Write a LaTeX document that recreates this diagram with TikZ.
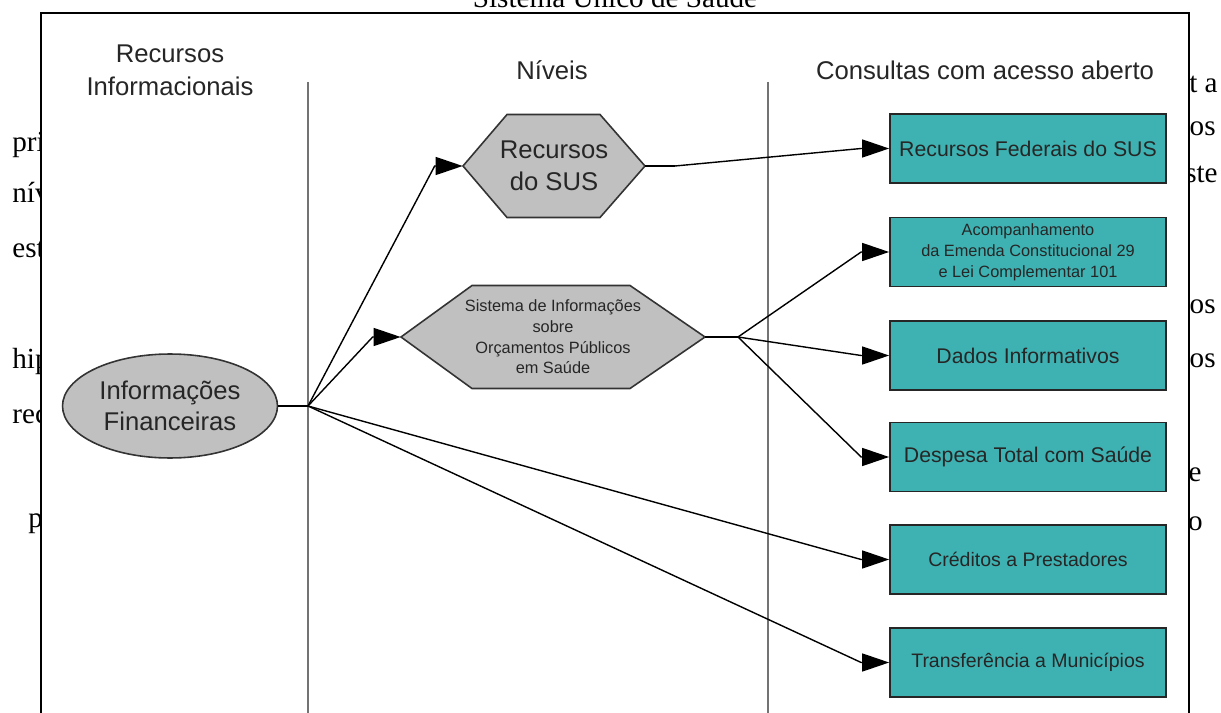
\documentclass[tikz,border=0pt]{standalone}
\usepackage{fontspec}
\setmainfont{Liberation Serif}
\newfontfamily\diafont{Liberation Sans}
\usepackage{xcolor}
\usetikzlibrary{shapes.geometric, arrows.meta}
\definecolor{hexgray}{RGB}{192,192,192}
\definecolor{boxteal}{RGB}{62,178,178}

\begin{document}
\begin{tikzpicture}[x=0.02cm, y=-0.02cm,
  pagetext/.style={font=\fontsize{16.6}{20}\selectfont, inner sep=0pt},
  header/.style={font=\diafont\fontsize{14.6}{18.8}\selectfont, align=center, text=black!85, inner sep=0pt},
  hexshape/.style={draw=black!80, line width=0.9pt, fill=hexgray},
  hexlabel/.style={align=center, text=black!85, inner sep=0pt, minimum height=2.06cm},
  infobox/.style={draw=black!85, line width=1pt, fill=boxteal, minimum width=5.52cm, minimum height=1.38cm, inner sep=0pt, align=center, text=black!85},
  link/.style={line width=0.8pt},
  arr/.style={line width=0.8pt, -{Triangle[length=0.54cm, width=0.36cm]}},
  divider/.style={black!55, line width=0.6pt}]
\clip (0,0) rectangle (1221,713);
\node[pagetext, anchor=base] (title) at (615,7.5) {Sistema Único de Saúde};
\node[pagetext, anchor=base west] (l1) at (12,152) {pri};
\node[pagetext, anchor=base west] (l2) at (12,202) {nív};
\node[pagetext, anchor=base west] (l3) at (12,257) {est};
\node[pagetext, anchor=base west] (l4) at (12,368) {hip};
\node[pagetext, anchor=base west] (l5) at (12,423) {rec};
\node[pagetext, anchor=base west] (l6) at (28,527) {p};
\node[pagetext, anchor=base east] (r1) at (1218,92) {t a};
\node[pagetext, anchor=base east] (r2) at (1216,135) {os};
\node[pagetext, anchor=base east] (r3) at (1218,182) {ste};
\node[pagetext, anchor=base east] (r4) at (1216,313) {os};
\node[pagetext, anchor=base east] (r5) at (1216,367) {os};
\node[pagetext, anchor=base east] (r6) at (1202,481) {e};
\node[pagetext, anchor=base east] (r7) at (1203,530) {o};

\fill[white] (41,13) rectangle (1189,713);
\draw[line width=0.8pt] (41,713) -- (41,13) -- (1189,13) -- (1189,713);
\draw[divider] (308,82) -- (308,713);
\draw[divider] (768,82) -- (768,713);

\node[header] (colA) at (170,70) {Recursos\\Informacionais};
\node[header] (colB) at (552,70) {Níveis};
\node[header] (colC) at (985,70) {Consultas com acesso aberto};

\node[ellipse, draw=black!80, line width=0.9pt, fill=hexgray, minimum width=4.3cm, minimum height=2.08cm, inner sep=0pt, align=center, text=black!85, font=\diafont\fontsize{14.6}{17.6}\selectfont] (fin) at (170,406) {Informações\\Financeiras};

\draw[hexshape] (463,166) -- (507,114.5) -- (600,114.5) -- (645,166) -- (600,217.5) -- (507,217.5) -- cycle;
\node[hexlabel, minimum width=3.64cm, font=\diafont\fontsize{14.6}{18.2}\selectfont] (sus) at (554,166) {Recursos\\do SUS};
\draw[hexshape] (401,337) -- (472,285.5) -- (630,285.5) -- (705,337) -- (630,388.5) -- (472,388.5) -- cycle;
\node[hexlabel, minimum width=6.08cm, font=\diafont\fontsize{9.3}{11.8}\selectfont] (siops) at (553,337) {Sistema de Informações\\sobre\\Orçamentos Públicos\\em Saúde};

\node[infobox, font=\diafont\fontsize{12.1}{14}\selectfont] (fed) at (1028,148.5) {Recursos Federais do SUS};
\node[infobox, font=\diafont\fontsize{9.3}{12}\selectfont] (ec29) at (1028,252) {Acompanhamento\\da Emenda Constitucional 29\\e Lei Complementar 101};
\node[infobox, font=\diafont\fontsize{12.1}{14}\selectfont] (dados) at (1028,355.5) {Dados Informativos};
\node[infobox, font=\diafont\fontsize{12.1}{14}\selectfont] (desp) at (1028,457) {Despesa Total com Saúde};
\node[infobox, font=\diafont\fontsize{11.1}{13}\selectfont] (cred) at (1028,559.5) {Créditos a Prestadores};
\node[infobox, font=\diafont\fontsize{11.1}{13}\selectfont] (transf) at (1028,662.5) {Transferência a Municípios};

\coordinate (jfin) at (308,406);
\coordinate (jsus) at (675,166);
\coordinate (jsiops) at (738,337);

\draw[link] (fin.east) -- (jfin);
\draw[arr] (jfin) -- ([xshift=-0.56cm]sus.west) -- (sus.west);
\draw[arr] (jfin) -- ([xshift=-0.56cm]siops.west) -- (siops.west);
\draw[arr] (jfin) -- ([xshift=-0.56cm]cred.west) -- (cred.west);
\draw[arr] (jfin) -- ([xshift=-0.56cm]transf.west) -- (transf.west);
\draw[link] (sus.east) -- (jsus);
\draw[arr] (jsus) -- ([xshift=-0.56cm]fed.west) -- (fed.west);
\draw[link] (siops.east) -- (jsiops);
\draw[arr] (jsiops) -- ([xshift=-0.56cm]ec29.west) -- (ec29.west);
\draw[arr] (jsiops) -- ([xshift=-0.56cm]dados.west) -- (dados.west);
\draw[arr] (jsiops) -- ([xshift=-0.56cm]desp.west) -- (desp.west);
\end{tikzpicture}
\end{document}
